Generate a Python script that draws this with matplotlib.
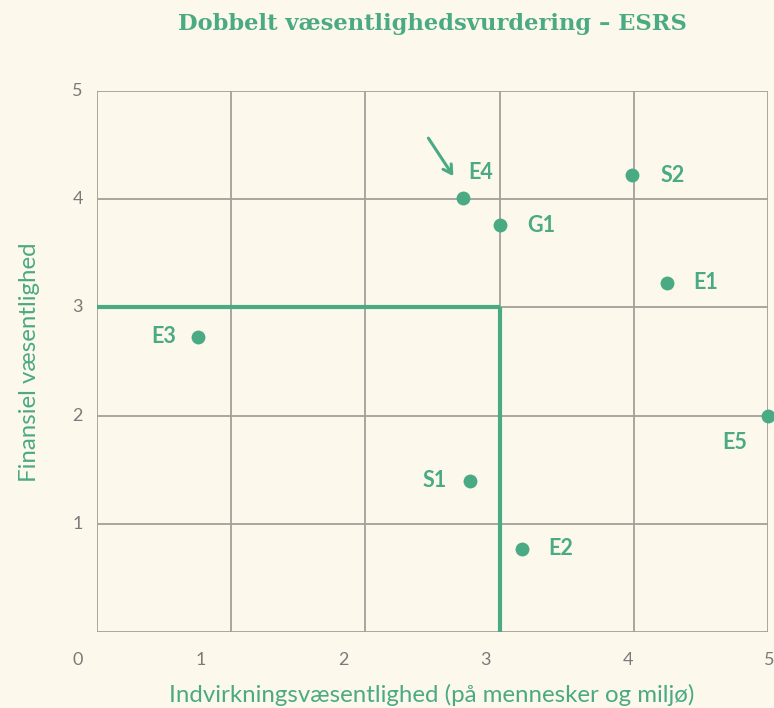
import numpy as np
import matplotlib
matplotlib.use('Agg')
from matplotlib import pyplot as plt
from matplotlib.transforms import offset_copy

####DATA####
codes=['E4','G1','S2','E1','E3','E5','S1','E2']
impact=[2.73,3.0,3.99,4.25,0.75,5.0,2.78,3.17]     # x: indvirkning
financial=[4.01,3.76,4.22,3.23,2.73,2.0,1.40,0.77]  # y: finansiel
threshold_x=3.0
threshold_y=3.0
xtick_labels=['0','1','2','3','4','5']
ytick_vals=[1,2,3,4,5]
############

green='#4aaa84'
bg='#fdf8ec'
gridc='#a3a09a'
tickc='#7a7a7a'

# label offsets in pixels (dx,dy,ha,va)
offs={'E4':(5,26,'left','center'),'G1':(28,0,'left','center'),'S2':(28,0,'left','center'),
      'E1':(26,0,'left','center'),'E3':(-22,0,'right','center'),'E5':(-33,-27,'center','center'),
      'S1':(-23,0,'right','center'),'E2':(26,0,'left','center')}
xlab_px=[78,201,343,485,628,769] # where the x labels sit in the picture

fig=plt.figure(figsize=(7.74,7.08),dpi=100,facecolor=bg)
ax=fig.add_axes([97/774,1-632/708,(768-97)/774,(632-91)/708])
ax.set_facecolor(bg)
ax.set_xlim(0,5)
ax.set_ylim(0,5)
for k in range(6):
    ax.axvline(k,color=gridc,lw=1.3,zorder=1)
    ax.axhline(k,color=gridc,lw=1.3,zorder=1)
for s in ax.spines.values():
    s.set_visible(False)
ax.set_xticks([])
ax.set_yticks([])

# threshold lines
ax.plot([0,threshold_x],[threshold_y,threshold_y],color=green,lw=3,zorder=2,solid_capstyle='butt')
ax.plot([threshold_x,threshold_x],[0,threshold_y],color=green,lw=3,zorder=2,solid_capstyle='butt')

ax.scatter(impact,financial,s=100,color=green,zorder=3,clip_on=False,linewidths=0)
for c,x,y in zip(codes,impact,financial):
    dx,dy,ha,va=offs[c]
    ax.annotate(c,(x,y),xytext=(dx,dy),textcoords='offset pixels',ha=ha,va=va,
                color=green,fontsize=15.5,fontweight='bold',family='Lato')

# arrow pointing at E4
i=codes.index('E4')
ax.annotate('',xy=(impact[i],financial[i]),xycoords=offset_copy(ax.transData,fig,x=-10,y=22,units='dots'),
            xytext=(impact[i],financial[i]),textcoords=offset_copy(ax.transData,fig,x=-35,y=60,units='dots'),
            arrowprops=dict(arrowstyle='->,head_length=0.6,head_width=0.35',color=green,lw=2.2,shrinkA=0,shrinkB=0))

# tick labels
for v in ytick_vals:
    ax.text(-0.145,v,str(v),ha='center',va='center',color=tickc,fontsize=13,family='Lato')
for px,lab in zip(xlab_px,xtick_labels):
    fig.text(px/774,1-660/708,lab,ha='center',va='center',color=tickc,fontsize=13,family='Lato')

fig.text(432/774,1-695/708,'Indvirkningsvæsentlighed (på mennesker og miljø)',ha='center',va='center',
         color=green,fontsize=17.3,family='Lato')
fig.text(30/774,1-362/708,'Finansiel væsentlighed',ha='center',va='center',rotation=90,
         color=green,fontsize=17.3,family='Lato')
fig.text(432/774,1-24/708,'Dobbelt væsentlighedsvurdering – ESRS',ha='center',va='center',
         color=green,fontsize=16.3,fontweight='bold',family='DejaVu Serif')

fig.savefig('out.png',dpi=100,facecolor=bg)
